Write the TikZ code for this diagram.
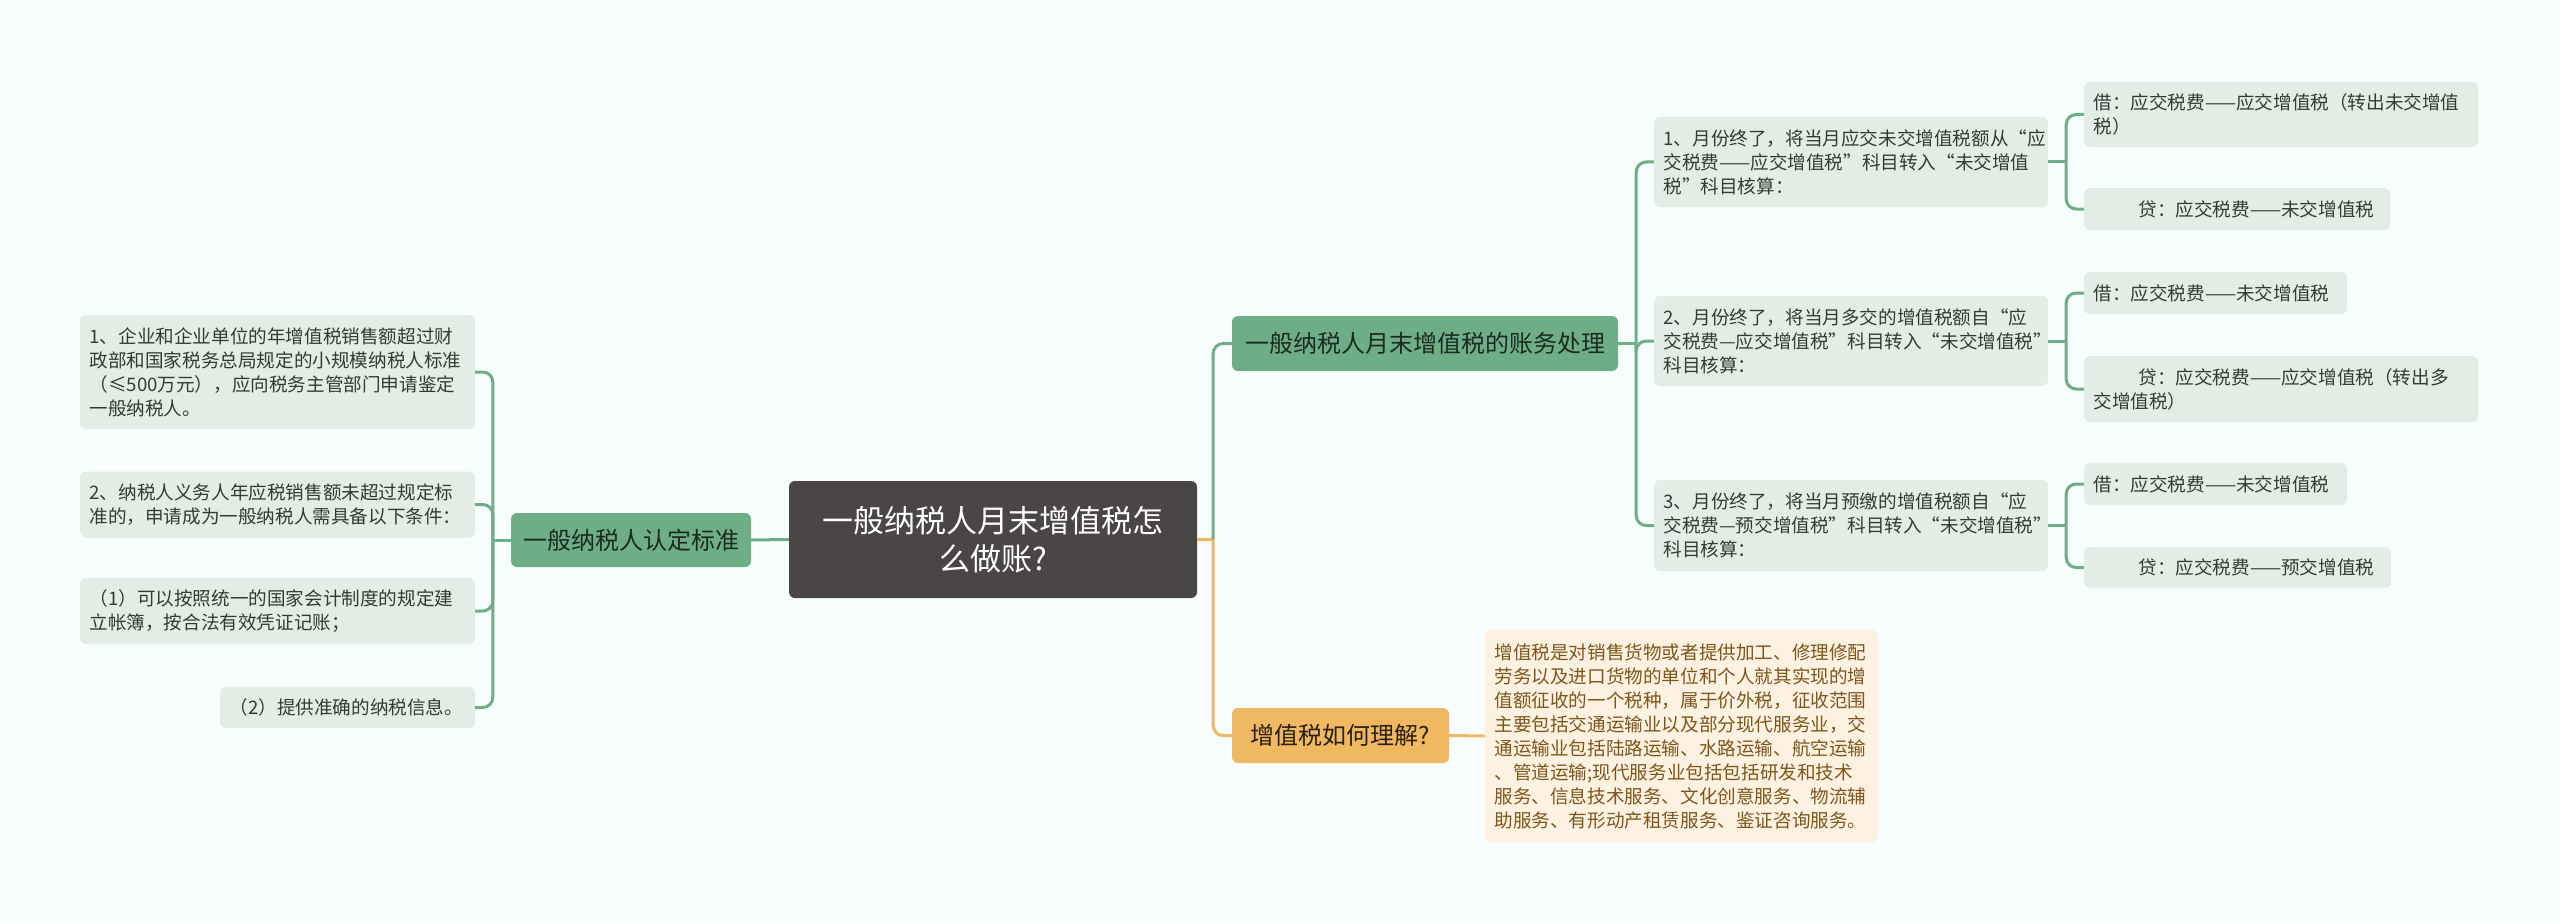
\documentclass[tikz,border=0pt]{standalone}
\usepackage{fontspec}
\setmainfont{Noto Sans CJK SC}
\definecolor{bg}{HTML}{F7FCFC}
\definecolor{rootfill}{HTML}{4B4646}
\definecolor{brg}{HTML}{6EAE87}
\definecolor{brtxt}{HTML}{1C2B21}
\definecolor{leafg}{HTML}{E2EEE5}
\definecolor{leaftxt}{HTML}{333B36}
\definecolor{lineg}{HTML}{6EAE87}
\definecolor{oraf}{HTML}{F0B860}
\definecolor{oratxt}{HTML}{2A2014}
\definecolor{oleaf}{HTML}{FDF1E2}
\definecolor{oleaftxt}{HTML}{7D561A}
\definecolor{lineo}{HTML}{F0B860}
\tikzset{
  boxbase/.style={rectangle, rounded corners=6pt, inner ysep=0pt},
  leafbox/.style={boxbase, fill=leafg, text=leaftxt, font=\fontsize{18.6}{24}\selectfont, align=left, inner xsep=9.5pt},
  oleafbox/.style={boxbase, fill=oleaf, text=oleaftxt, font=\fontsize{18.6}{24}\selectfont, align=left, inner xsep=9.5pt},
  branchbox/.style={boxbase, fill=brg, text=brtxt, font=\fontsize{24}{30}\selectfont, align=center, inner xsep=0pt},
  obranchbox/.style={boxbase, fill=oraf, text=oratxt, font=\fontsize{24}{30}\selectfont, align=center, inner xsep=0pt},
  rootbox/.style={boxbase, fill=rootfill, text=white, font=\fontsize{31}{38}\selectfont, align=center, inner xsep=0pt},
  gline/.style={draw=lineg, line width=3pt, rounded corners=10pt},
  oline/.style={draw=lineo, line width=3pt, rounded corners=10pt},
}
\begin{document}
\begin{tikzpicture}[x=1pt,y=-1pt]
\fill[bg] (0,0) rectangle (2560,923);
\useasboundingbox (0,0) rectangle (2560,923);

% root
\node[rootbox, minimum width=408pt, minimum height=117pt] (root) at (993,539.5) {一般纳税人月末增值税怎\\么做账?};

% left branch
\node[branchbox, minimum width=240pt, minimum height=54pt] (bl) at (631,540) {一般纳税人认定标准};
\node[leafbox, text width=376pt, minimum height=114pt] (l1) at (277.5,372) {1、企业和企业单位的年增值税销售额超过财\\政部和国家税务总局规定的小规模纳税人标准\\（≤500万元），应向税务主管部门申请鉴定\\一般纳税人。};
\node[leafbox, text width=376pt, minimum height=66pt] (l2) at (277.5,504.5) {2、纳税人义务人年应税销售额未超过规定标\\准的，申请成为一般纳税人需具备以下条件：};
\node[leafbox, text width=376pt, minimum height=66pt] (l3) at (277.5,611) {（1）可以按照统一的国家会计制度的规定建\\立帐簿，按合法有效凭证记账；};
\node[leafbox, text width=236pt, minimum height=41pt] (l4) at (347.5,707.5) {（2）提供准确的纳税信息。};

% right branches
\node[branchbox, minimum width=386pt, minimum height=55pt] (b1) at (1425,343.5) {一般纳税人月末增值税的账务处理};
\node[obranchbox, minimum width=217pt, minimum height=55pt] (b2) at (1340.5,735.5) {增值税如何理解?};

\node[oleafbox, text width=374pt, minimum height=212pt] (o1) at (1681.5,736) {增值税是对销售货物或者提供加工、修理修配\\劳务以及进口货物的单位和个人就其实现的增\\值额征收的一个税种，属于价外税，征收范围\\主要包括交通运输业以及部分现代服务业，交\\通运输业包括陆路运输、水路运输、航空运输\\、管道运输;现代服务业包括包括研发和技术\\服务、信息技术服务、文化创意服务、物流辅\\助服务、有形动产租赁服务、鉴证咨询服务。};

\node[leafbox, text width=375pt, minimum height=90pt] (m1) at (1851,162) {1、月份终了，将当月应交未交增值税额从“应\\交税费——应交增值税”科目转入“未交增值\\税”科目核算：};
\node[leafbox, text width=375pt, minimum height=90pt] (m2) at (1851,341) {2、月份终了，将当月多交的增值税额自“应\\交税费—应交增值税”科目转入“未交增值税”\\科目核算：};
\node[leafbox, text width=375pt, minimum height=91pt] (m3) at (1851,525.5) {3、月份终了，将当月预缴的增值税额自“应\\交税费—预交增值税”科目转入“未交增值税”\\科目核算：};

\node[leafbox, text width=375pt, minimum height=65pt] (r1a) at (2281,114.5) {借：应交税费——应交增值税（转出未交增值\\税）};
\node[leafbox, text width=287pt, minimum height=42pt] (r1b) at (2237,209) {\hspace*{45pt}贷：应交税费——未交增值税};
\node[leafbox, text width=244pt, minimum height=42pt] (r2a) at (2215.5,293) {借：应交税费——未交增值税};
\node[leafbox, text width=375pt, minimum height=66pt] (r2b) at (2281,389) {\hspace*{45pt}贷：应交税费——应交增值税（转出多\\交增值税）};
\node[leafbox, text width=244pt, minimum height=42pt] (r3a) at (2215.5,484) {借：应交税费——未交增值税};
\node[leafbox, text width=288pt, minimum height=41pt] (r3b) at (2237.5,567.5) {\hspace*{45pt}贷：应交税费——预交增值税};

% junctions
\path (bl.west) ++(-18,0) coordinate (jl);
\path (root.east) ++(16,0) coordinate (jr);
\path (b1.east) ++(18,0) coordinate (jb1);
\path (m1.east) ++(18,0) coordinate (jm1);
\path (m2.east) ++(18,0) coordinate (jm2);
\path (m3.east) ++(18,0) coordinate (jm3);

% connectors
\draw[gline] (root.west) -- (bl.east);
\draw[gline] (bl.west) -- (jl);
\draw[gline] (jl) |- (l1.east);
\draw[gline] (jl) |- (l2.east);
\draw[gline] (jl) |- (l3.east);
\draw[gline] (jl) |- (l4.east);

\draw[oline] (root.east) -- (jr);
\draw[gline] (jr) |- (b1.west);
\draw[oline] (jr) |- (b2.west);
\draw[oline] (b2.east) -- (o1.west);

\draw[gline] (b1.east) -- (jb1);
\draw[gline] (jb1) |- (m1.west);
\draw[gline] (jb1) |- (m2.west);
\draw[gline] (jb1) |- (m3.west);

\draw[gline] (m1.east) -- (jm1);
\draw[gline] (jm1) |- (r1a.west);
\draw[gline] (jm1) |- (r1b.west);
\draw[gline] (m2.east) -- (jm2);
\draw[gline] (jm2) |- (r2a.west);
\draw[gline] (jm2) |- (r2b.west);
\draw[gline] (m3.east) -- (jm3);
\draw[gline] (jm3) |- (r3a.west);
\draw[gline] (jm3) |- (r3b.west);
\end{tikzpicture}
\end{document}
